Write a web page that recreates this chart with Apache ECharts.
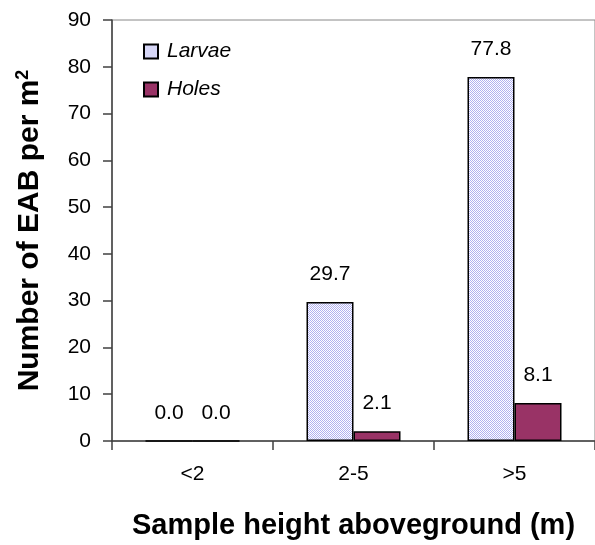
<!DOCTYPE html>
<html>
<head>
<meta charset="utf-8">
<script src="https://cdn.jsdelivr.net/npm/echarts@6/dist/echarts.min.js"></script>
<style>
html,body{margin:0;padding:0;background:#fff;}
#c{width:595px;height:545px;}
</style>
</head>
<body>
<div id="c"></div>
<script>
const categories = ['<2', '2-5', '>5'];
const larvae = [0.0, 29.7, 77.8];
const holes = [0.0, 2.1, 8.1];
const seriesNames = ['Larvae', 'Holes'];
const yMin = 0, yMax = 90, yStep = 10;

// hatched light lavender pattern
const pc = document.createElement('canvas');
pc.width = 2; pc.height = 2;
const g = pc.getContext('2d');
g.fillStyle = '#ffffff'; g.fillRect(0,0,2,2);
g.fillStyle = '#b0b0f0'; g.fillRect(0,0,1,1); g.fillRect(1,1,1,1);
const larvaeFill = { image: pc, repeat: 'repeat' };

const font = 'Liberation Sans, Arial, sans-serif';
const chart = echarts.init(document.getElementById('c'));
const lbl = {
  show: true, position: 'top', distance: 17,
  fontFamily: font, fontSize: 21, color: '#000',
  formatter: p => p.value.toFixed(1)
};
chart.setOption({
  animation: false,
  backgroundColor: '#fff',
  grid: { left: 112, top: 20, width: 489, height: 421, show: true, borderColor: '#888', borderWidth: 1 },
  legend: {
    orient: 'vertical', left: 143, top: 41, padding: 0, itemWidth: 14, itemHeight: 14, itemGap: 17,
    icon: 'rect',
    textStyle: { fontFamily: font, fontSize: 21, fontStyle: 'italic', color: '#000', padding: [0,0,0,4] },
    data: seriesNames
  },
  xAxis: {
    type: 'category', data: categories,
    name: 'Sample height aboveground (m)', nameLocation: 'middle', nameGap: 70,
    nameTextStyle: { fontFamily: font, fontSize: 29, fontWeight: 'bold', color: '#000' },
    axisLine: { lineStyle: { color: '#404040', width: 1.5 } },
    axisTick: { show: true, length: 9, lineStyle: { color: '#404040', width: 1.5 } },
    axisLabel: { fontFamily: font, fontSize: 21, color: '#000', margin: 23 }
  },
  yAxis: {
    type: 'value', min: yMin, max: yMax, interval: yStep,
    name: '{a|Number of EAB per m}{s|2}', nameLocation: 'middle', nameGap: 66, nameRotate: 90,
    nameTextStyle: {
      rich: {
        a: { fontFamily: font, fontSize: 30, fontWeight: 'bold', color: '#000', lineHeight: 32 },
        s: { fontFamily: font, fontSize: 18, fontWeight: 'bold', color: '#000', verticalAlign: 'top', lineHeight: 20 }
      }
    },
    axisLine: { show: true, lineStyle: { color: '#404040', width: 1.5 } },
    axisTick: { show: true, length: 9, lineStyle: { color: '#404040', width: 1.5 } },
    splitLine: { show: false },
    axisLabel: { fontFamily: font, fontSize: 21, color: '#000', margin: 21 }
  },
  series: [
    { name: seriesNames[0], type: 'bar', data: larvae, barWidth: 47, barGap: '0%',
      itemStyle: { color: larvaeFill, borderColor: '#000', borderWidth: 1.5 }, label: lbl },
    { name: seriesNames[1], type: 'bar', data: holes, barWidth: 47, barGap: '0%',
      itemStyle: { color: '#993366', borderColor: '#000', borderWidth: 1.5 }, label: lbl }
  ]
});
</script>
</body>
</html>
